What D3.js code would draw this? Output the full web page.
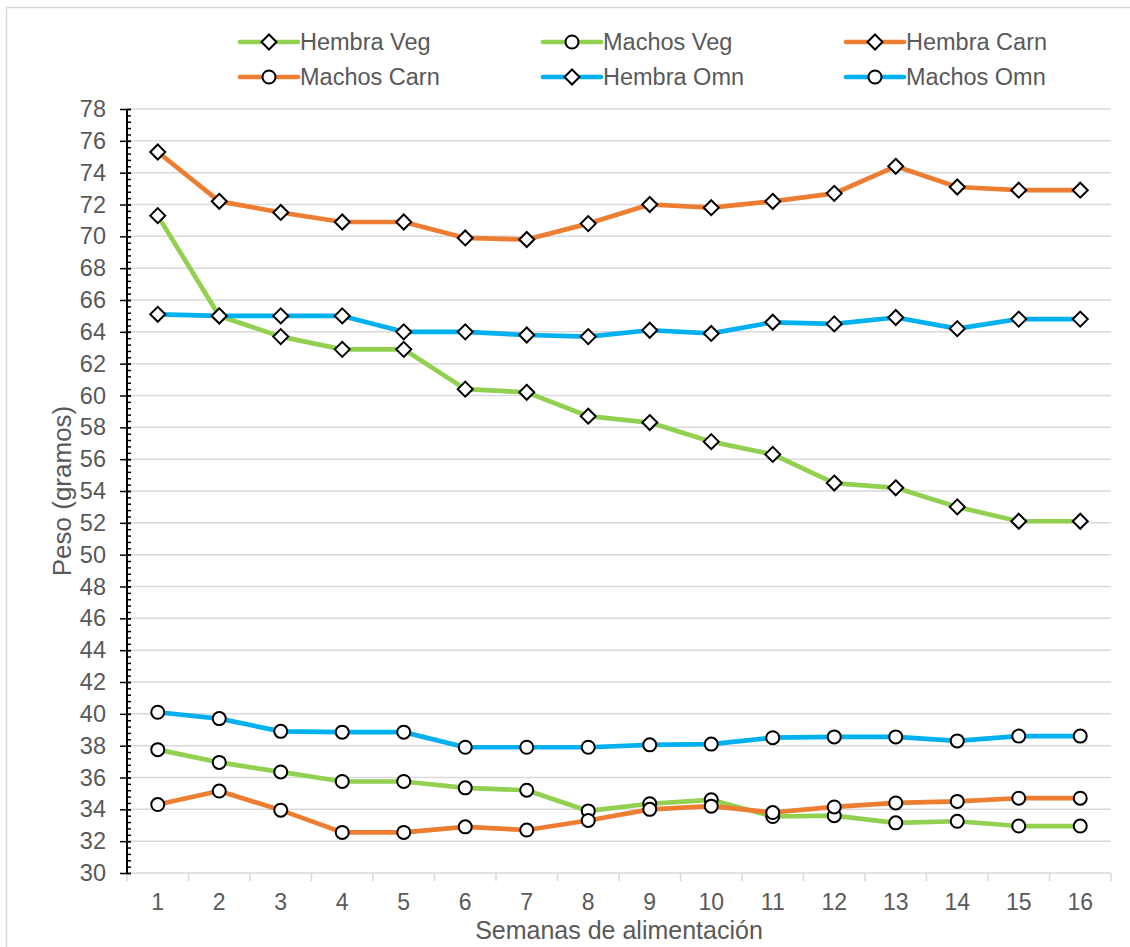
<!DOCTYPE html>
<html>
<head>
<meta charset="utf-8">
<script src="https://cdn.jsdelivr.net/npm/d3@7"></script>
<style>
  html, body { margin: 0; padding: 0; background: #fff; }
  svg { display: block; }
  text { font-family: "Liberation Sans", Arial, sans-serif; fill: #595959; }
</style>
</head>
<body>
<svg id="chart" width="1130" height="947"></svg>
<script>
// Weekly weights (grams) per sex and diet
const weeks = ["1","2","3","4","5","6","7","8","9","10","11","12","13","14","15","16"];

const hembraVeg  = [71.3, 65.0, 63.7, 62.9, 62.9, 60.4, 60.2, 58.7, 58.3, 57.1, 56.3, 54.5, 54.2, 53.0, 52.1, 52.1];
const machosVeg  = [37.75, 36.95, 36.35, 35.75, 35.75, 35.35, 35.2, 33.9, 34.35, 34.6, 33.55, 33.6, 33.15, 33.25, 32.95, 32.95];
const hembraCarn = [75.3, 72.2, 71.5, 70.9, 70.9, 69.9, 69.8, 70.8, 72.0, 71.8, 72.2, 72.7, 74.4, 73.1, 72.9, 72.9];
const machosCarn = [34.3, 35.15, 33.95, 32.55, 32.55, 32.9, 32.7, 33.3, 34.0, 34.2, 33.8, 34.15, 34.4, 34.5, 34.7, 34.7];
const hembraOmn  = [65.1, 65.0, 65.0, 65.0, 64.0, 64.0, 63.8, 63.7, 64.1, 63.9, 64.6, 64.5, 64.9, 64.2, 64.8, 64.8];
const machosOmn  = [40.1, 39.7, 38.9, 38.85, 38.85, 37.9, 37.9, 37.9, 38.05, 38.1, 38.5, 38.55, 38.55, 38.3, 38.6, 38.6];

const seriesNames = ["Hembra Veg", "Machos Veg", "Hembra Carn", "Machos Carn", "Hembra Omn", "Machos Omn"];
const seriesValues = [hembraVeg, machosVeg, hembraCarn, machosCarn, hembraOmn, machosOmn];
const seriesColors = ["#92D050", "#92D050", "#ED7D31", "#ED7D31", "#00B0F0", "#00B0F0"];
const seriesMarkers = ["diamond", "circle", "diamond", "circle", "diamond", "circle"];

const yMajorTicks = d3.range(30, 78.01, 2);
const yMinorTicks = d3.range(30, 78.01, 0.4);

const xTitle = "Semanas de alimentación";
const yTitle = "Peso (gramos)";

const svg = d3.select("#chart");

// chart-area border
svg.append("rect")
  .attr("x", 6.5).attr("y", 7.5)
  .attr("width", 1140).attr("height", 960)
  .attr("fill", "none").attr("stroke", "#d9d9d9").attr("stroke-width", 1.5);

const plot = { left: 127, right: 1111, top: 109, bottom: 873 };

const x = d3.scaleBand().domain(weeks).range([plot.left, plot.right]).padding(0);
const y = d3.scaleLinear().domain([30, 78]).range([plot.bottom, plot.top]);
const cx = d => x(d) + x.bandwidth() / 2;

// horizontal gridlines
svg.append("g").selectAll("line")
  .data(yMajorTicks.filter(v => v > 30))
  .join("line")
  .attr("x1", plot.left).attr("x2", plot.right)
  .attr("y1", d => y(d)).attr("y2", d => y(d))
  .attr("stroke", "#d9d9d9").attr("stroke-width", 1.5);

// x axis: gray baseline, ticks on category boundaries, labels centred
const xAxis = svg.append("g").attr("transform", `translate(0,${plot.bottom})`);
xAxis.append("line")
  .attr("x1", plot.left).attr("x2", plot.right)
  .attr("stroke", "#d9d9d9").attr("stroke-width", 1.5);
xAxis.selectAll("line.b")
  .data(weeks.map(w => x(w)).concat([plot.right]))
  .join("line").attr("class", "b")
  .attr("x1", d => d).attr("x2", d => d)
  .attr("y1", 0).attr("y2", 8)
  .attr("stroke", "#d9d9d9").attr("stroke-width", 1.5);
xAxis.selectAll("text")
  .data(weeks)
  .join("text")
  .attr("x", d => cx(d)).attr("y", 36.5)
  .attr("text-anchor", "middle")
  .attr("font-size", 23)
  .text(d => d);

// y axis: inside minor ticks, crossing major ticks, labels
const yMinor = d3.axisRight(y).tickValues(yMinorTicks).tickSize(4).tickFormat("");
const gMinor = svg.append("g").attr("transform", `translate(${plot.left},0)`).call(yMinor);
gMinor.select(".domain").remove();
gMinor.selectAll(".tick line").attr("stroke", "#000").attr("stroke-width", 1.5);

const yMajor = d3.axisLeft(y).tickValues(yMajorTicks).tickSize(7).tickPadding(14).tickFormat(d3.format("d"));
const gMajor = svg.append("g").attr("transform", `translate(${plot.left},0)`).call(yMajor);
gMajor.select(".domain").attr("stroke", "#000").attr("stroke-width", 2).attr("d", `M0,${plot.bottom}V${plot.top}`);
gMajor.selectAll(".tick line").attr("stroke", "#000").attr("stroke-width", 1.5).attr("x2", 4).attr("x1", -7);
gMajor.selectAll(".tick text")
  .attr("font-size", 23.5)
  .attr("font-family", "Liberation Sans, Arial, sans-serif")
  .attr("fill", "#595959");

// axis titles
svg.append("text")
  .attr("x", (plot.left + plot.right) / 2).attr("y", 939)
  .attr("text-anchor", "middle").attr("font-size", 25)
  .text(xTitle);
svg.append("text")
  .attr("transform", `translate(71,${(plot.top + plot.bottom) / 2}) rotate(-90)`)
  .attr("text-anchor", "middle").attr("font-size", 26)
  .text(yTitle);

// marker drawing helper
function drawMarker(g, type, px, py) {
  if (type === "diamond") {
    const s = 7.5;
    g.append("path")
      .attr("d", `M${px},${py - s}L${px + s},${py}L${px},${py + s}L${px - s},${py}Z`)
      .attr("fill", "#fff").attr("stroke", "#000").attr("stroke-width", 2);
  } else {
    g.append("circle")
      .attr("cx", px).attr("cy", py).attr("r", 6.5)
      .attr("fill", "#fff").attr("stroke", "#000").attr("stroke-width", 2);
  }
}

// series: line then markers, in series order
const line = d3.line().x((d, i) => cx(weeks[i])).y(d => y(d));
seriesValues.forEach((vals, k) => {
  const g = svg.append("g");
  g.append("path")
    .attr("d", line(vals))
    .attr("fill", "none")
    .attr("stroke", seriesColors[k])
    .attr("stroke-width", 4.7)
    .attr("stroke-linejoin", "round")
    .attr("stroke-linecap", "round");
  vals.forEach((v, i) => drawMarker(g, seriesMarkers[k], cx(weeks[i]), y(v)));
});

// legend: 3 columns x 2 rows
const legCols = [240, 543, 846];
const legRows = [42, 77];
seriesNames.forEach((name, k) => {
  const lx = legCols[k % 3], ly = legRows[Math.floor(k / 3)];
  const g = svg.append("g");
  g.append("line")
    .attr("x1", lx).attr("x2", lx + 58)
    .attr("y1", ly).attr("y2", ly)
    .attr("stroke", seriesColors[k]).attr("stroke-width", 4.7)
    .attr("stroke-linecap", "round");
  drawMarker(g, seriesMarkers[k], lx + 29, ly);
  g.append("text")
    .attr("x", lx + 60).attr("y", ly)
    .attr("dy", "0.36em")
    .attr("font-size", 23.5)
    .text(name);
});
</script>
</body>
</html>
